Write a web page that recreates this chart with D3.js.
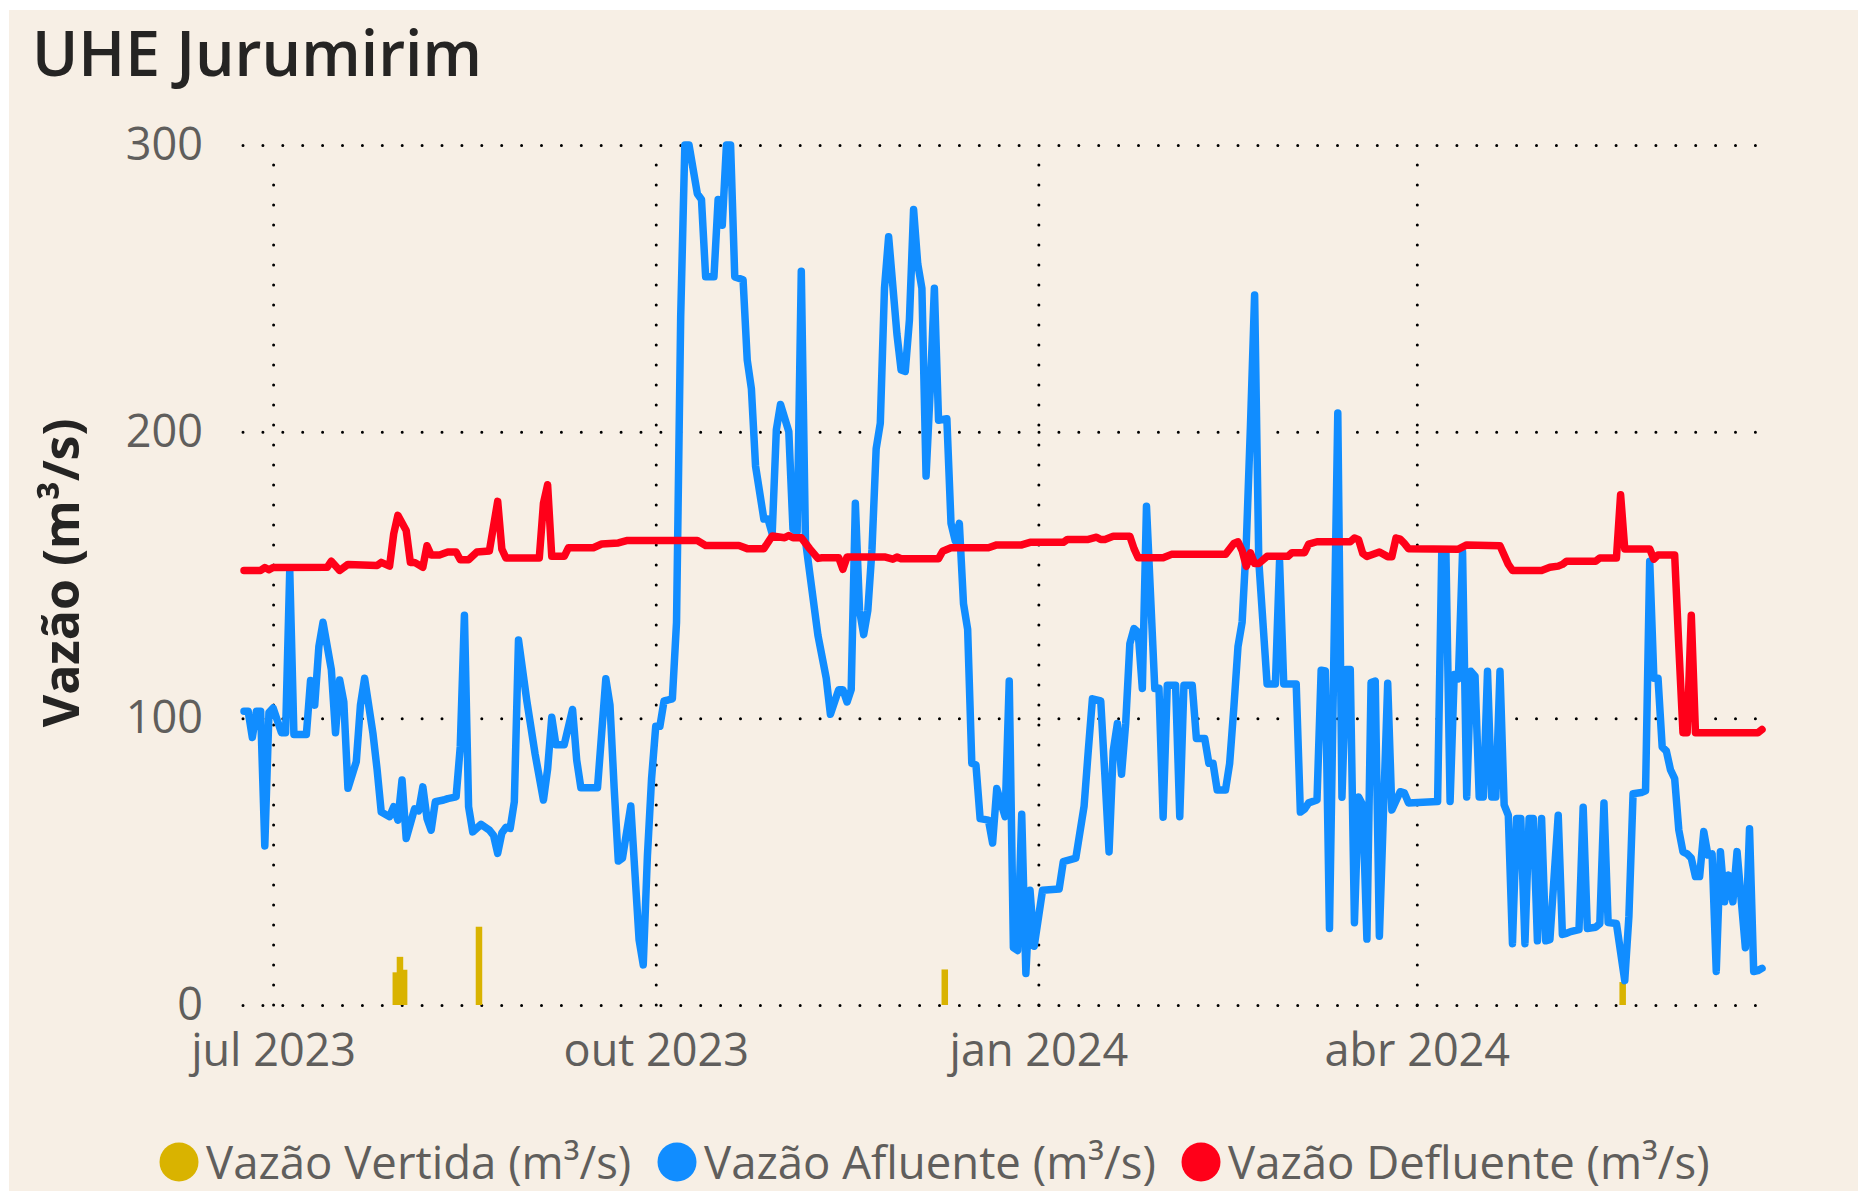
<!DOCTYPE html>
<html><head><meta charset="utf-8">
<script src="https://cdn.jsdelivr.net/npm/d3@7"></script>
<style>
html,body{margin:0;padding:0;background:#fff;}
svg{display:block;}
</style></head><body>
<svg id="chart" width="1869" height="1194"></svg>
<script>
const chartTitle = "UHE Jurumirim";
const yAxisTitle = "Vazão (m³/s)";
const seriesNames = ["Vazão Vertida (m³/s)", "Vazão Afluente (m³/s)", "Vazão Defluente (m³/s)"];
const seriesColors = ["#D9B300", "#118DFF", "#FF0019"];
const domainDates = ["2023-06-24", "2024-06-23"];
const yTicks = [0, 100, 200, 300];
const xTickDates = ["2023-07-01", "2023-10-01", "2024-01-01", "2024-04-01"];
const xTickLabels = ["jul 2023", "out 2023", "jan 2024", "abr 2024"];

const vertidaDates = ["2023-07-30", "2023-07-31", "2023-08-01", "2023-08-19", "2023-12-09", "2024-05-20"];
const vertidaValues = [11.4, 16.8, 12.3, 27.3, 12.4, 8];

const afluenteDates = [
"2023-06-24","2023-06-25","2023-06-26","2023-06-27","2023-06-28","2023-06-29","2023-06-30","2023-07-01","2023-07-03","2023-07-04",
"2023-07-05","2023-07-06","2023-07-09","2023-07-10","2023-07-11","2023-07-12","2023-07-13","2023-07-15","2023-07-16","2023-07-17",
"2023-07-18","2023-07-19","2023-07-21","2023-07-22","2023-07-23","2023-07-25","2023-07-26","2023-07-27","2023-07-29","2023-07-30",
"2023-07-31","2023-08-01","2023-08-02","2023-08-04","2023-08-05","2023-08-06","2023-08-07","2023-08-08","2023-08-09","2023-08-11",
"2023-08-12","2023-08-14","2023-08-15","2023-08-16","2023-08-17","2023-08-18","2023-08-20","2023-08-22","2023-08-23","2023-08-24",
"2023-08-25","2023-08-26","2023-08-27","2023-08-28","2023-08-29","2023-08-31","2023-09-02","2023-09-04","2023-09-05","2023-09-06",
"2023-09-07","2023-09-09","2023-09-11","2023-09-12","2023-09-13","2023-09-17","2023-09-19","2023-09-20","2023-09-21","2023-09-22",
"2023-09-23","2023-09-25","2023-09-27","2023-09-28","2023-09-29","2023-09-30","2023-10-01","2023-10-02","2023-10-03","2023-10-04",
"2023-10-05","2023-10-06","2023-10-07","2023-10-08","2023-10-09","2023-10-11","2023-10-12","2023-10-13","2023-10-15","2023-10-16",
"2023-10-17","2023-10-18","2023-10-19","2023-10-20","2023-10-22","2023-10-23","2023-10-24","2023-10-25","2023-10-27","2023-10-28",
"2023-10-29","2023-10-30","2023-10-31","2023-11-02","2023-11-03","2023-11-04","2023-11-05","2023-11-06","2023-11-09","2023-11-11",
"2023-11-12","2023-11-14","2023-11-15","2023-11-16","2023-11-17","2023-11-18","2023-11-19","2023-11-20","2023-11-21","2023-11-22",
"2023-11-23","2023-11-24","2023-11-25","2023-11-26","2023-11-28","2023-11-29","2023-11-30","2023-12-01","2023-12-02","2023-12-03",
"2023-12-04","2023-12-05","2023-12-06","2023-12-07","2023-12-08","2023-12-10","2023-12-11","2023-12-12","2023-12-13","2023-12-14",
"2023-12-15","2023-12-16","2023-12-17","2023-12-18","2023-12-20","2023-12-21","2023-12-22","2023-12-24","2023-12-25","2023-12-26",
"2023-12-27","2023-12-28","2023-12-29","2023-12-30","2023-12-31","2024-01-02","2024-01-06","2024-01-07","2024-01-10","2024-01-12",
"2024-01-13","2024-01-14","2024-01-16","2024-01-17","2024-01-18","2024-01-19","2024-01-20","2024-01-21","2024-01-22","2024-01-23",
"2024-01-24","2024-01-25","2024-01-26","2024-01-27","2024-01-29","2024-01-30","2024-01-31","2024-02-01","2024-02-03","2024-02-04",
"2024-02-05","2024-02-07","2024-02-08","2024-02-10","2024-02-11","2024-02-12","2024-02-13","2024-02-15","2024-02-16","2024-02-17",
"2024-02-18","2024-02-19","2024-02-20","2024-02-21","2024-02-22","2024-02-23","2024-02-25","2024-02-27","2024-02-28","2024-02-29",
"2024-03-03","2024-03-04","2024-03-05","2024-03-06","2024-03-08","2024-03-09","2024-03-10","2024-03-11","2024-03-13","2024-03-14",
"2024-03-15","2024-03-16","2024-03-17","2024-03-18","2024-03-19","2024-03-20","2024-03-21","2024-03-22","2024-03-23","2024-03-25",
"2024-03-26","2024-03-28","2024-03-29","2024-03-30","2024-04-06","2024-04-07","2024-04-08","2024-04-09","2024-04-10","2024-04-11",
"2024-04-12","2024-04-13","2024-04-14","2024-04-15","2024-04-16","2024-04-17","2024-04-18","2024-04-19","2024-04-20","2024-04-21",
"2024-04-22","2024-04-23","2024-04-24","2024-04-25","2024-04-26","2024-04-27","2024-04-28","2024-04-29","2024-04-30","2024-05-01",
"2024-05-02","2024-05-03","2024-05-05","2024-05-06","2024-05-07","2024-05-08","2024-05-10","2024-05-11","2024-05-12","2024-05-14",
"2024-05-15","2024-05-16","2024-05-17","2024-05-19","2024-05-21","2024-05-22","2024-05-23","2024-05-25","2024-05-26","2024-05-27",
"2024-05-28","2024-05-29","2024-05-30","2024-05-31","2024-06-01","2024-06-02","2024-06-03","2024-06-04","2024-06-05","2024-06-06",
"2024-06-07","2024-06-08","2024-06-09","2024-06-10","2024-06-11","2024-06-12","2024-06-13","2024-06-14","2024-06-15","2024-06-16",
"2024-06-17","2024-06-19","2024-06-20","2024-06-21","2024-06-22","2024-06-23"
];
const afluenteValues = [
102.5,102.5,93.3,102.5,102.5,55.5,102,103.6,95,95,
151.6,94.4,94.4,113.2,104.6,125,133.5,117,95,113.4,
105.7,75.6,84.9,104.6,114,94.8,82.2,67.3,65.7,69.2,
64.5,78.5,58.1,68.4,67.7,76.1,65.1,61,70.9,71.5,
72,72.6,90.1,136,69.2,60.4,63,61,59.2,52.9,
60,62,61.6,70.9,127.3,106.1,87.5,71.5,82.2,100.4,
90.8,90.8,103.1,85.4,75.8,75.8,113.8,104.6,75.8,50.2,
51.2,69.4,22.7,14,52,79,97.2,97.2,106.1,106.4,
106.8,133.5,240,300,300,283,281,254,254,281,
272,300,300,254,253,225,215,188,169.5,169.5,
164.4,200.6,209.5,200,166,165,256,162,129,114,
101.4,110,110,105.7,110,175,137.7,129.2,137.7,159,
194,203,250,268,234,221.5,221,239,277.5,258.5,
250,184.5,214.5,250,204,204.5,168,162,168,140,
131,84.3,83.7,65,64.5,56.5,75.5,65.7,113,20,
19,66.5,11,40,20.5,40,40.5,50,51.2,69.4,
88.6,106.8,106.1,80.1,53.4,88.6,98.2,80.5,98.2,126,
131.3,130,110.4,174,110.4,110.5,65.5,111.5,111.5,65.7,
111.5,111.5,93,93,84.3,84.3,75,75,84.3,103.6,
125,133.6,161,202,247.7,155,112,112,154.8,112,
112,67.3,68.3,70.5,71.5,116.8,116.5,26.7,206.5,72.5,
117,117,28.7,72.6,69.8,23,112.5,113,24,112.2,
68,74.4,74,70.5,71,158,158,71,115.3,113.8,
158,72.6,116.4,114.7,72.6,72.6,116.4,72.6,72.6,116.4,
69.8,66.2,21.4,65.1,65.1,21.4,65.1,65.1,22.4,65.1,
22.4,22.8,66.2,24.6,25,25.6,26.3,69,26.7,27.1,
28.4,70.5,28.8,28.4,8.5,31,73.7,74.1,74.7,154.8,
114,114,90,88.6,82,79,61,53.4,52.7,51.2,
44.8,44.8,60.5,52.3,52.7,11.7,53.5,36,45.3,36,
53.5,20,61.5,11.7,12,12.8
];

const defluenteDates = [
"2023-06-24","2023-06-28","2023-06-29","2023-06-30","2023-07-01","2023-07-14","2023-07-15","2023-07-17","2023-07-19","2023-07-26",
"2023-07-27","2023-07-29","2023-07-30","2023-07-31","2023-08-02","2023-08-03","2023-08-04","2023-08-06","2023-08-07","2023-08-08",
"2023-08-10","2023-08-12","2023-08-14","2023-08-15","2023-08-17","2023-08-19","2023-08-22","2023-08-24","2023-08-25","2023-08-26",
"2023-09-03","2023-09-04","2023-09-05","2023-09-06","2023-09-09","2023-09-10","2023-09-16","2023-09-18","2023-09-22","2023-09-24",
"2023-10-11","2023-10-13","2023-10-21","2023-10-23","2023-10-27","2023-10-29","2023-11-01","2023-11-02","2023-11-03","2023-11-05",
"2023-11-07","2023-11-09","2023-11-10","2023-11-14","2023-11-15","2023-11-16","2023-11-25","2023-11-27","2023-11-28","2023-11-29",
"2023-12-08","2023-12-09","2023-12-11","2023-12-20","2023-12-22","2023-12-28","2023-12-30","2024-01-07","2024-01-08","2024-01-13",
"2024-01-15","2024-01-16","2024-01-17","2024-01-19","2024-01-23","2024-01-24","2024-01-25","2024-01-31","2024-02-02","2024-02-15",
"2024-02-17","2024-02-18","2024-02-19","2024-02-20","2024-02-21","2024-02-22","2024-02-23","2024-02-25","2024-03-01","2024-03-02",
"2024-03-05","2024-03-06","2024-03-08","2024-03-16","2024-03-17","2024-03-18","2024-03-19","2024-03-20","2024-03-21","2024-03-23",
"2024-03-25","2024-03-26","2024-03-27","2024-03-28","2024-03-29","2024-03-30","2024-04-11","2024-04-13","2024-04-21","2024-04-23",
"2024-04-24","2024-05-01","2024-05-03","2024-05-05","2024-05-06","2024-05-07","2024-05-14","2024-05-15","2024-05-19","2024-05-20",
"2024-05-21","2024-05-27","2024-05-28","2024-05-29","2024-06-02","2024-06-03","2024-06-04","2024-06-05","2024-06-06","2024-06-07",
"2024-06-22","2024-06-23"
];
const defluenteValues = [
151.6,151.6,152.6,151.8,152.6,152.7,154.8,151.6,153.7,153.3,
154.4,153.1,164.4,170.8,165.5,154.4,154.4,152.7,160.2,157,
157,158,158,155.3,155.3,158,158.4,175.7,159,155.9,
155.9,175,181.5,156.5,156.5,159.5,159.5,160.8,161.2,162,
162,160.3,160.3,159.2,159.2,163.6,163,163.8,163,163,
159.2,155.8,156,156,152,156.3,156.3,155.5,156.3,155.7,
155.7,158.3,159.5,159.5,160.5,160.5,161.4,161.4,162.4,162.4,
163.2,162.4,162.4,163.5,163.5,159.2,156,156,157.2,157.2,
161,161.6,158.5,153,157.7,154,154,156.5,156.5,157.8,
157.8,160.8,161.6,161.6,162.9,162.3,157.5,156.5,157,158,
156.4,156.4,162.9,162.5,161,159.2,159,160.5,160.2,153.7,
151.6,151.6,152.7,153.1,153.7,154.8,154.8,155.9,155.9,178,
159.1,159.1,155.5,157,157,125,95,95,136,95,
95,96.1
];

const parse = d3.utcParse("%Y-%m-%d");
const svg = d3.select("#chart");
const fontFam = "'Open Sans', 'Noto Sans', sans-serif";

const x = d3.scaleUtc().domain(domainDates.map(parse)).range([244, 1762]);
const y = d3.scaleLinear().domain([0, 300]).range([1005, 145]);

// panel background
svg.append("rect").attr("x", 9).attr("y", 10).attr("width", 1849).attr("height", 1181).attr("fill", "#F7EFE5");

// title
svg.append("text").attr("x", 32).attr("y", 76).text(chartTitle)
  .attr("textLength", 450).attr("lengthAdjust", "spacingAndGlyphs")
  .attr("fill", "#252423").style("font-family", fontFam).style("font-size", "64px")
  .style("font-weight", 600);

// y axis + gridlines
const gy = svg.append("g").attr("transform", "translate(243,0)")
  .call(d3.axisLeft(y).tickValues(yTicks).tickSize(-1520).tickPadding(40).tickFormat(d3.format("d")));
gy.select(".domain").remove();
gy.selectAll(".tick line").attr("stroke", "#000").attr("stroke-width", 3)
  .attr("stroke-linecap", "round").attr("stroke-dasharray", "0 19.9");
gy.selectAll(".tick text").attr("fill", "#605E5C")
  .style("font-family", fontFam).style("font-size", "45px");

// x axis + gridlines
const gx = svg.append("g").attr("transform", "translate(0,1005)")
  .call(d3.axisBottom(x).tickValues(xTickDates.map(parse)).tickSize(-860)
    .tickFormat((d, i) => xTickLabels[i]));
gx.select(".domain").remove();
gx.selectAll(".tick line").attr("stroke", "#000").attr("stroke-width", 3)
  .attr("stroke-linecap", "round").attr("stroke-dasharray", "0 20");
gx.selectAll(".tick text").attr("fill", "#605E5C").attr("y", 61).attr("dy", 0)
  .style("font-family", fontFam).style("font-size", "45px");

// y axis title
svg.append("text").attr("transform", "translate(79,573) rotate(-90)")
  .attr("text-anchor", "middle").text(yAxisTitle)
  .attr("fill", "#252423").style("font-family", fontFam)
  .style("font-size", "50px").style("font-weight", "bold");

// bars (Vazão Vertida)
const vertida = vertidaDates.map((d, i) => ({ date: parse(d), v: vertidaValues[i] }));
const barW = 6.5;
svg.append("g").selectAll("rect").data(vertida).join("rect")
  .attr("x", d => (x(d.date) + x(d3.utcDay.offset(d.date, 1))) / 2 - barW / 2)
  .attr("y", d => y(d.v))
  .attr("width", barW)
  .attr("height", d => y(0) - y(d.v))
  .attr("fill", seriesColors[0]);

// lines
const line = d3.line().x(d => x(d.date)).y(d => y(d.v));
const afluente = afluenteDates.map((d, i) => ({ date: parse(d), v: afluenteValues[i] }));
const defluente = defluenteDates.map((d, i) => ({ date: parse(d), v: defluenteValues[i] }));
svg.append("path").datum(afluente).attr("d", line).attr("fill", "none")
  .attr("stroke", seriesColors[1]).attr("stroke-width", 7.5)
  .attr("stroke-linejoin", "round").attr("stroke-linecap", "round");
svg.append("path").datum(defluente).attr("d", line).attr("fill", "none")
  .attr("stroke", seriesColors[2]).attr("stroke-width", 7.5)
  .attr("stroke-linejoin", "round").attr("stroke-linecap", "round");

// legend
const legendX = [179, 677, 1201];
const lg = svg.append("g");
seriesNames.forEach((name, i) => {
  lg.append("circle").attr("cx", legendX[i]).attr("cy", 1162).attr("r", 19.5).attr("fill", seriesColors[i]);
  lg.append("text").attr("x", legendX[i] + 27).attr("y", 1179).text(name)
    .attr("fill", "#605E5C").style("font-family", fontFam).style("font-size", "45.5px");
});
</script>
</body></html>
